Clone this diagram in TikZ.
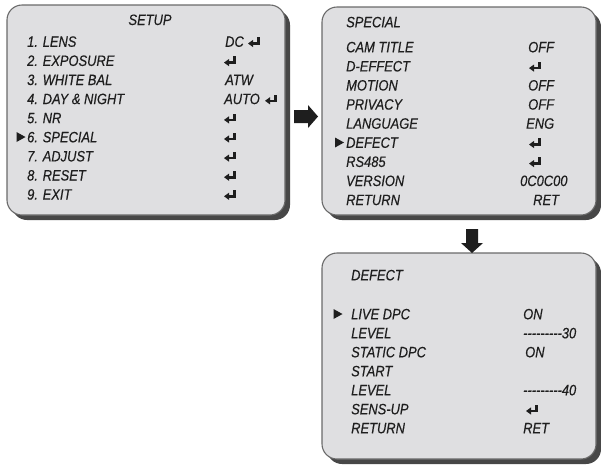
\documentclass[tikz,border=0pt]{standalone}
\usepackage{fontspec}
\newfontfamily\menufont{Liberation Sans}[FakeStretch=0.86,FakeBold=0.4]
\definecolor{boxfill}{HTML}{DFDFE1}
\definecolor{boxline}{HTML}{6A6A6A}
\definecolor{shadowc}{HTML}{474747}
\definecolor{ink}{HTML}{1E1E1E}
\begin{document}
\begin{tikzpicture}[x=1pt,y=-1pt,
  menubox/.style={draw=boxline, line width=1.1pt, fill=boxfill, rounded corners=15pt, inner sep=0pt},
  shadowbox/.style={fill=shadowc, rounded corners=15pt, inner sep=0pt, draw=none},
  lbl/.style={anchor=base west, inner sep=0pt, text=ink, font=\menufont\itshape\fontsize{15}{18}\selectfont},
  ttl/.style={lbl, anchor=base},
  enterkey/.pic={
    \fill[ink] (0,0) -- (5,-3.6) -- (5,3.6) -- cycle;
    \fill[ink] (4,-1.3) rectangle (12,1.3);
    \fill[ink] (9.4,-6.2) rectangle (12,1.3);
  },
  marker/.pic={\fill[ink] (0,-5) -- (9,0) -- (0,5) -- cycle;},
  bigarrow/.style={fill=ink}
]
\useasboundingbox (0,0) rectangle (601,464);

% ---------- boxes ----------
\node[shadowbox, minimum width=278pt, minimum height=210pt] (setupsh) at (151,115) {};
\node[menubox, minimum width=278pt, minimum height=210pt] (setup) at (146,110) {};
\node[shadowbox, minimum width=274pt, minimum height=208pt] (specialsh) at (464,116) {};
\node[menubox, minimum width=274pt, minimum height=208pt] (special) at (459,111) {};
\node[shadowbox, minimum width=274pt, minimum height=206pt] (defectsh) at (464,361) {};
\node[menubox, minimum width=274pt, minimum height=206pt] (defect) at (459,356) {};

% ---------- block arrows ----------
\fill[bigarrow] (294,110) -- (308,110) -- (308,105) -- (318,116.5) -- (308,128) -- (308,123) -- (294,123) -- cycle;
\fill[bigarrow] (466,229) -- (478,229) -- (478,243) -- (483,243) -- (472,253) -- (461,243) -- (466,243) -- cycle;

% ---------- SETUP ----------
\node[ttl] (s0) at (150,25) {SETUP};
\node[lbl] (s1) at (27,46.8) {1. LENS};
\node[lbl] (s2) at (27,65.9) {2. EXPOSURE};
\node[lbl] (s3) at (27,85.0) {3. WHITE BAL};
\node[lbl] (s4) at (27,104.1) {4. DAY \& NIGHT};
\node[lbl] (s5) at (27,123.2) {5. NR};
\node[lbl] (s6) at (27,142.3) {6. SPECIAL};
\node[lbl] (s7) at (27,161.4) {7. ADJUST};
\node[lbl] (s8) at (27,180.5) {8. RESET};
\node[lbl] (s9) at (27,199.6) {9. EXIT};
\pic at (16.5,137) {marker};
\node[lbl] (v1) at (225,46.8) {DC};
\pic at (248,43.5) {enterkey};
\pic at (224,62.6) {enterkey};
\node[lbl] (v3) at (225,85.0) {ATW};
\node[lbl] (v4) at (224,104.1) {AUTO};
\pic at (265,100.8) {enterkey};
\pic at (224,119.9) {enterkey};
\pic at (224,139.0) {enterkey};
\pic at (224,158.1) {enterkey};
\pic at (224,177.2) {enterkey};
\pic at (224,196.3) {enterkey};

% ---------- SPECIAL ----------
\node[lbl] (p0) at (346,27.3) {SPECIAL};
\node[lbl] (p1) at (346,52.3) {CAM TITLE};
\node[lbl] (p2) at (346,71.4) {D-EFFECT};
\node[lbl] (p3) at (346,90.5) {MOTION};
\node[lbl] (p4) at (346,109.6) {PRIVACY};
\node[lbl] (p5) at (346,128.7) {LANGUAGE};
\node[lbl] (p6) at (346,147.8) {DEFECT};
\node[lbl] (p7) at (346,166.9) {RS485};
\node[lbl] (p8) at (346,186.0) {VERSION};
\node[lbl] (p9) at (346,205.1) {RETURN};
\pic at (335,142.5) {marker};
\node[lbl] (q1) at (528,52.3) {OFF};
\pic at (529,68.1) {enterkey};
\node[lbl] (q3) at (528,90.5) {OFF};
\node[lbl] (q4) at (528,109.6) {OFF};
\node[lbl] (q5) at (526,128.7) {ENG};
\pic at (529,144.5) {enterkey};
\pic at (529,163.6) {enterkey};
\node[lbl] (q8) at (520,186.0) {0C0C00};
\node[lbl] (q9) at (533,205.1) {RET};

% ---------- DEFECT ----------
\node[lbl] (d0) at (351,280.3) {DEFECT};
\node[lbl] (d1) at (351,319.3) {LIVE DPC};
\node[lbl] (d2) at (351,338.3) {LEVEL};
\node[lbl] (d3) at (351,357.3) {STATIC DPC};
\node[lbl] (d4) at (351,376.3) {START};
\node[lbl] (d5) at (351,395.3) {LEVEL};
\node[lbl] (d6) at (351,414.3) {SENS-UP};
\node[lbl] (d7) at (351,433.3) {RETURN};
\pic at (333.5,314) {marker};
\node[lbl] (e1) at (523,319.3) {ON};
\node[lbl] (e2) at (523,338.3) {---------30};
\node[lbl] (e3) at (525,357.3) {ON};
\node[lbl] (e5) at (523,395.3) {---------40};
\pic at (526,411) {enterkey};
\node[lbl] (e7) at (523,433.3) {RET};
\end{tikzpicture}
\end{document}
